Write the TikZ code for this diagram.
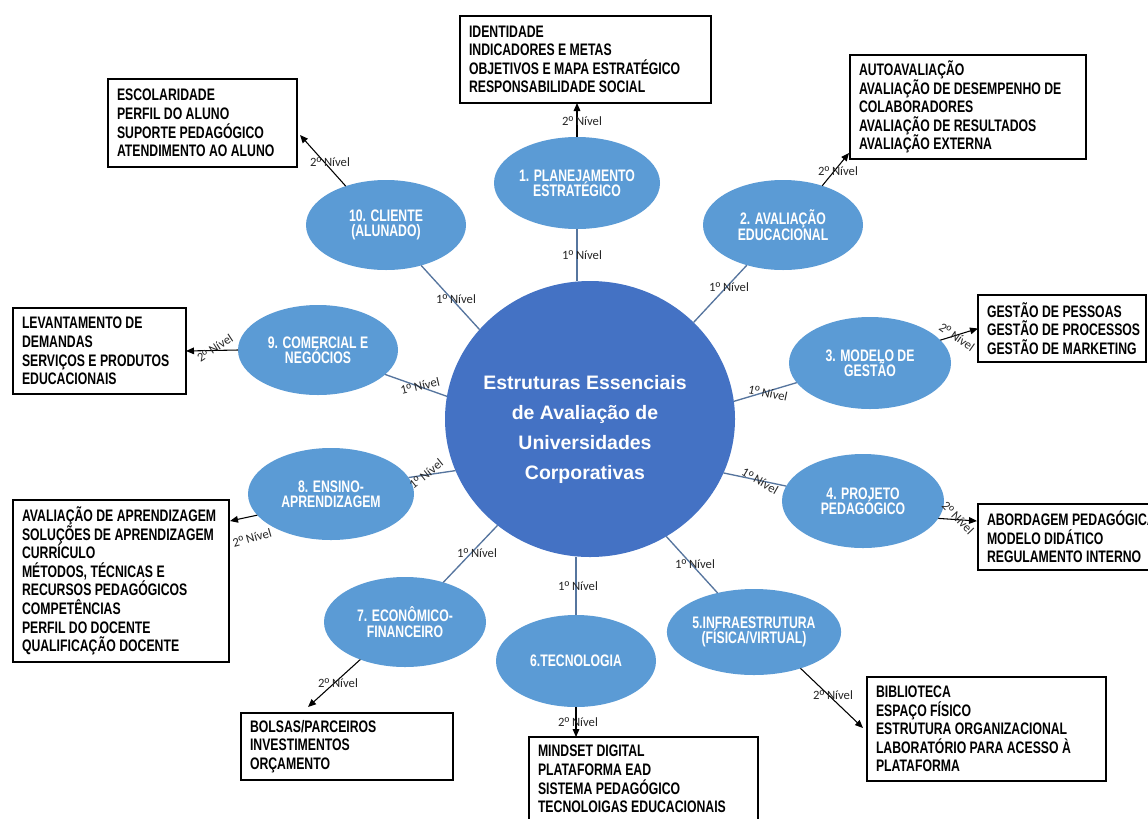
\documentclass[tikz,border=0pt]{standalone}
\usepackage{fontspec}
\setmainfont{Liberation Sans}
\newfontfamily\narrowfont{Liberation Sans}[FakeStretch=0.735]
\newfontfamily\labelfont{Carlito}
\newfontfamily\ordfont{Liberation Sans}
\usetikzlibrary{shapes.geometric,arrows.meta,calc}

\definecolor{hubblue}{HTML}{4472C4}
\definecolor{topicblue}{HTML}{5B9BD5}
\definecolor{linkblue}{HTML}{56759E}
\definecolor{labelgray}{HTML}{262626}

% box contents: left-aligned lines at an even pitch, in a column of given width (px)
\newcommand\itemlines[2]{\makebox[\dimexpr0.75pt*#1\relax][l]{%
  \parbox[c]{\dimexpr0.75pt*#1+60pt\relax}{\raggedright\lineskiplimit=-50pt #2}}}
% level tag, e.g. \lv{1} -> 1º Nível
\newcommand\lv[1]{#1{\ordfont º} Nível}

\tikzset{
  hub/.style={ellipse, fill=hubblue, draw=none, inner sep=0pt, outer sep=0pt,
    minimum width=217.5pt, minimum height=207pt},
  hubtext/.style={text=white, align=center, inner sep=0pt,
    font={\fontsize{14.6}{22.5}\selectfont\bfseries}},
  topic/.style={ellipse, fill=topicblue, draw=none, inner sep=0pt, outer sep=0pt,
    text=white, align=center,
    font={\narrowfont\fontsize{12.5}{11.6}\selectfont\bfseries\lineskiplimit=-20pt}},
  esize/.style 2 args={minimum width=#1*0.75pt, minimum height=#2*0.75pt},
  itembox/.style={draw=black, line width=0.9pt, fill=white, anchor=north west,
    inner xsep=6.75pt, inner ysep=0pt, outer sep=0pt,
    font={\narrowfont\fontsize{12.5}{13.9}\selectfont\bfseries}},
  bh/.style={minimum height=#1*0.75pt},
  lvl/.style={font={\labelfont\fontsize{9.5}{11}\selectfont}, text=labelgray, inner sep=0pt},
  link1/.style={draw=linkblue, line width=1pt},
  link2/.style={draw=black, line width=0.8pt, -{Triangle[length=6pt,width=5pt]}},
}

\begin{document}
\begin{tikzpicture}[x=0.75pt, y=-0.75pt]
\path[fill=white, use as bounding box] (0,0) rectangle (1148,818);

% central hub
\node[hub] (hub) at (590,419) {};
\node[hubtext] (title) at (585,429) {Estruturas Essenciais\\de Avaliação de\\Universidades\\Corporativas};

% first-level topics
\node[topic, esize={166}{92}] (e1) at (577,183) {1. PLANEJAMENTO\\ESTRATÉGICO};
\node[topic, esize={160}{90}] (e2) at (783,225) {2. AVALIAÇÃO\\EDUCACIONAL};
\node[topic, esize={162}{92}] (e3) at (870,363) {3. MODELO DE\\GESTÃO};
\node[topic, esize={162}{94}] (e4) at (863,501) {4. PROJETO\\PEDAGÓGICO};
\node[topic, esize={172}{86}] (e5) at (754,632) {5.INFRAESTRUTURA\\(FÍSICA/VIRTUAL)};
\node[topic, esize={160}{92}] (e6) at (576,661) {6.TECNOLOGIA};
\node[topic, esize={162}{90}] (e7) at (405,622) {7. ECONÔMICO-\\FINANCEIRO};
\node[topic, esize={166}{92}] (e8) at (331,494) {8. ENSINO-\\APRENDIZAGEM};
\node[topic, esize={160}{90}] (e9) at (318,350) {9. COMERCIAL E\\NEGÓCIOS};
\node[topic, esize={160}{90}] (e10) at (386,225) {10. CLIENTE\\(ALUNADO)};

% second-level boxes
\node[itembox, bh=87] (b1) at (460,16) {\itemlines{233}{IDENTIDADE\\INDICADORES E METAS\\OBJETIVOS E MAPA ESTRATÉGICO\\RESPONSABILIDADE SOCIAL}};
\node[itembox, bh=104] (b2) at (850,55) {\itemlines{218}{AUTOAVALIAÇÃO\\AVALIAÇÃO DE DESEMPENHO DE\\COLABORADORES\\AVALIAÇÃO DE RESULTADOS\\AVALIAÇÃO EXTERNA}};
\node[itembox, bh=67] (b3) at (978,295) {\itemlines{150}{GESTÃO DE PESSOAS\\GESTÃO DE PROCESSOS\\GESTÃO DE MARKETING}};
\node[itembox, bh=66] (b4) at (978,504) {\itemlines{162}{ABORDAGEM PEDAGÓGICA\\MODELO DIDÁTICO\\REGULAMENTO INTERNO}};
\node[itembox, bh=104] (b5) at (867,677) {\itemlines{221}{BIBLIOTECA\\ESPAÇO FÍSICO\\ESTRUTURA ORGANIZACIONAL\\LABORATÓRIO PARA ACESSO À\\PLATAFORMA}};
\node[itembox, bh=84] (b6) at (529,737) {\itemlines{211}{MINDSET DIGITAL\\PLATAFORMA EAD\\SISTEMA PEDAGÓGICO\\TECNOLOIGAS EDUCACIONAIS}};
\node[itembox, bh=67] (b7) at (241,713) {\itemlines{194}{BOLSAS/PARCEIROS\\INVESTIMENTOS\\ORÇAMENTO}};
\node[itembox, bh=162] (b8) at (13,500) {\itemlines{198}{AVALIAÇÃO DE APRENDIZAGEM\\SOLUÇÕES DE APRENDIZAGEM\\CURRÍCULO\\MÉTODOS, TÉCNICAS E\\RECURSOS PEDAGÓGICOS\\COMPETÊNCIAS\\PERFIL DO DOCENTE\\QUALIFICAÇÃO DOCENTE}};
\node[itembox, bh=86] (b9) at (13,308) {\itemlines{155}{LEVANTAMENTO DE\\DEMANDAS\\SERVIÇOS E PRODUTOS\\EDUCACIONAIS}};
\node[itembox, bh=88] (b10) at (108,79) {\itemlines{171}{ESCOLARIDADE\\PERFIL DO ALUNO\\SUPORTE PEDAGÓGICO\\ATENDIMENTO AO ALUNO}};

% hub to topics
\draw[link1] (e1.south) -- (e1.south |- hub.north);
\draw[link1] (hub.43) -- (e2.228);
\draw[link1] (hub.7) -- (e3.195);
\draw[link1] (hub.338) -- (e4.169);
\draw[link1] (hub.303) -- (e5.133);
\draw[link1] (e6.north) -- (e6.north |- hub.south);
\draw[link1] (hub.229) -- (e7.46);
\draw[link1] (hub.201) -- (e8.12);
\draw[link1] (hub.171) -- (e9.340);
\draw[link1] (hub.141) -- (e10.311);

% topics to boxes
\draw[link2] (e1.north) -- (e1.north |- b1.south);
\draw[link2] (e2.45) -- ($(b2.south west)+(-1,-6)$);
\draw[link2] (e3.18) -- (b3.west);
\draw[link2] (e4.347) -- ($(b4.west)+(-1,-16)$);
\draw[link2] (e5.322) -- ($(b5.west)+(-4,-1)$);
\draw[link2] (e6.south) -- (e6.south |- b6.north);
\draw[link2] (e7.220) -- ($(b7.north west)+(67,-6)$);
\draw[link2] (e8.196) -- ($(b8.north east)+(1,21)$);
\draw[link2] (e9.west) -- (b9.east);
\draw[link2] (e10.136) -- ($(b10.east)+(3,12)$);

% level labels
\node[lvl] (n1) at (582,255) {\lv{1}};
\node[lvl] (n2) at (729,287) {\lv{1}};
\node[lvl, rotate=-12] (n3) at (768,393) {\lv{1}};
\node[lvl, rotate=-30] (n4) at (760,481) {\lv{1}};
\node[lvl] (n5) at (695,564) {\lv{1}};
\node[lvl] (n6) at (578,586) {\lv{1}};
\node[lvl] (n7) at (477,553) {\lv{1}};
\node[lvl, rotate=39] (n8) at (426,474) {\lv{1}};
\node[lvl, rotate=13] (n9) at (420,386) {\lv{1}};
\node[lvl] (n10) at (456,299) {\lv{1}};

\node[lvl] (m1) at (582,121) {\lv{2}};
\node[lvl] (m2) at (838,171) {\lv{2}};
\node[lvl, rotate=-35] (m3) at (957,337) {\lv{2}};
\node[lvl, rotate=-46] (m4) at (958,518) {\lv{2}};
\node[lvl] (m5) at (833,695) {\lv{2}};
\node[lvl] (m6) at (578,722) {\lv{2}};
\node[lvl] (m7) at (338,683) {\lv{2}};
\node[lvl, rotate=16] (m8) at (252,538) {\lv{2}};
\node[lvl, rotate=33] (m9) at (215,348) {\lv{2}};
\node[lvl] (m10) at (330,162) {\lv{2}};
\end{tikzpicture}
\end{document}
